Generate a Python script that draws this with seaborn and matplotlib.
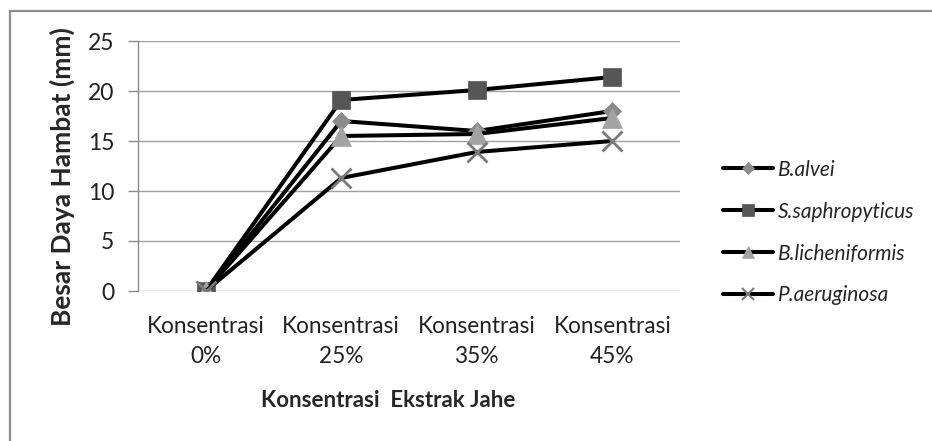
import matplotlib as mpl
mpl.use('Agg')
import matplotlib.pyplot as plt
from matplotlib.lines import Line2D
from matplotlib.patches import Rectangle
import pandas as pd
import seaborn as sns

categories = ['Konsentrasi\n0%', 'Konsentrasi\n25%', 'Konsentrasi\n35%', 'Konsentrasi\n45%']
b_alvei = [0, 17.0, 16.0, 18.0]
s_saphropyticus = [0, 19.1, 20.1, 21.4]
b_licheniformis = [0, 15.5, 15.7, 17.3]
p_aeruginosa = [0, 11.3, 13.9, 15.0]
series_names = ['B.alvei', 'S.saphropyticus', 'B.licheniformis', 'P.aeruginosa']

sns.set_style('white')
plt.rcParams['font.family'] = ['Lato', 'DejaVu Sans']

fig = plt.figure(figsize=(9.32, 4.41), dpi=100)
ax = fig.add_axes([138 / 932, 1 - 291 / 441, 542 / 932, 250 / 441])

# marker style per series (marker, face colour, size)
styles = {
    'B.alvei': ('D', '#8a8a8a', 9.5),
    'S.saphropyticus': ('s', '#565656', 13.5),
    'B.licheniformis': ('^', '#a3a3a3', 14),
    'P.aeruginosa': ('x', '#7a7a7a', 14),
}

frames = []
for name, vals in zip(series_names, [b_alvei, s_saphropyticus, b_licheniformis, p_aeruginosa]):
    frames.append(pd.DataFrame({'kat': categories, 'nilai': vals, 'seri': name}))
df = pd.concat(frames)

handles = []
for name in series_names:
    m, c, ms = styles[name]
    sub = df[df['seri'] == name]
    sns.lineplot(data=sub, x='kat', y='nilai', ax=ax, color='black', lw=2.9,
                 marker=m, markersize=ms, markerfacecolor=c,
                 markeredgecolor=c, markeredgewidth=2 if m == 'x' else 0.5,
                 sort=False, legend=False)
    handles.append(Line2D([], [], color='black', lw=2.9, marker=m,
                          markersize=ms * 0.6, markerfacecolor=c,
                          markeredgecolor=c, markeredgewidth=1.5 if m == 'x' else 0.5))

ax.set_xlim(-0.5, 3.5)
ax.set_ylim(0, 25)
ax.set_yticks([0, 5, 10, 15, 20, 25])
ax.grid(axis='y', color='#a0a0a0', lw=1)
ax.grid(axis='x', visible=False)
for s in ['top', 'right', 'bottom']:
    ax.spines[s].set_visible(False)
ax.spines['left'].set_color('#8c8c8c')
ax.spines['left'].set_linewidth(1)
ax.tick_params(axis='y', direction='out', length=7, color='#8c8c8c', width=1,
               labelsize=16.5, pad=10, left=True)
ax.tick_params(axis='x', length=0, labelsize=16.3, pad=18)
for t in ax.get_xticklabels() + ax.get_yticklabels():
    t.set_color('#222222')
    t.set_linespacing(1.55)

ax.set_xlabel('Konsentrasi  Ekstrak Jahe', fontsize=16, fontweight='bold')
ax.set_ylabel('Besar Daya Hambat (mm)', fontsize=19, fontweight='bold')
ax.xaxis.set_label_coords((388 - 138) / 542, (291 - 390) / 250)
ax.yaxis.set_label_coords((75 - 138) / 542, (291 - 177) / 250)

leg = fig.legend(handles=handles, labels=series_names, loc='upper left',
                 bbox_to_anchor=(704 / 932, 1 - 141 / 441), frameon=False,
                 handlelength=2.4, handletextpad=0.25, labelspacing=1.05,
                 prop={'size': 15, 'style': 'italic'})

fig.patches.append(Rectangle((10 / 932, -0.05), 1.0, 1 - 11 / 441 + 0.05,
                             transform=fig.transFigure, fill=False,
                             edgecolor='#8c8c8c', lw=1.6))

fig.savefig('out.png', dpi=100)
